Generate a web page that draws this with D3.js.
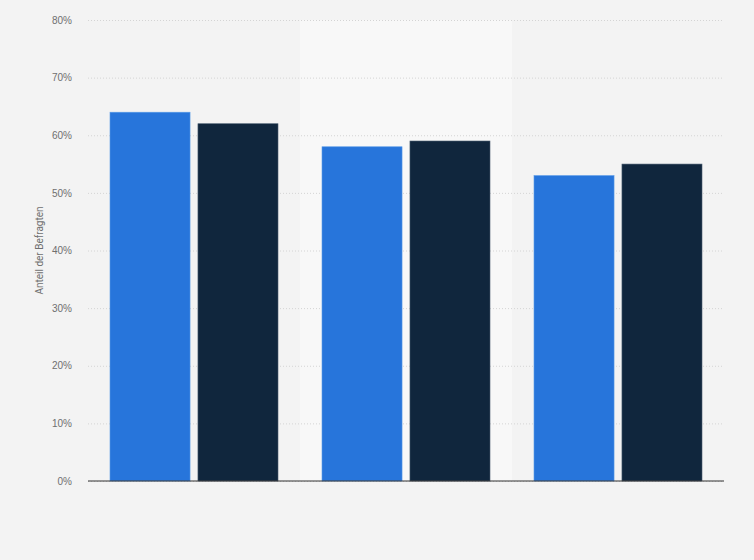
<!DOCTYPE html>
<html>
<head>
<meta charset="utf-8">
<script src="https://cdn.jsdelivr.net/npm/d3@7"></script>
<style>
  body { margin: 0; background: #f3f3f3; }
  svg { display: block; font-family: Roboto, "Open Sans", Arial, sans-serif; }
</style>
</head>
<body>
<script>
// chart data
var groups = ["A", "B", "C"];
var seriesNames = ["s1", "s2"];
var series1 = [64, 58, 53];
var series2 = [62, 59, 55];
var yTicks = [0, 10, 20, 30, 40, 50, 60, 70, 80];
var colors = ["#2775db", "#10263d"];

var W = 754, H = 560;
var margin = {top: 20, right: 30, bottom: 79, left: 88};

var svg = d3.select("body").append("svg")
            .attr("width", W)
            .attr("height", H);

svg.append("rect")
   .attr("width", W).attr("height", H)
   .attr("fill", "#f3f3f3");

var x0 = d3.scaleBand()
           .domain(groups)
           .range([margin.left, W - margin.right]);

var x1 = d3.scaleBand()
           .domain(seriesNames)
           .range([22, x0.bandwidth() - 22])
           .paddingInner(0.09);

var y = d3.scaleLinear()
          .domain([0, 80])
          .range([H - margin.bottom, margin.top]);

// lighter middle band
svg.append("rect")
   .attr("x", x0(groups[1]))
   .attr("y", margin.top)
   .attr("width", x0.bandwidth())
   .attr("height", y(0) - margin.top)
   .attr("fill", "#f8f8f8");

// gridlines
var yAxis = d3.axisLeft(y)
              .tickValues(yTicks)
              .tickSize(-(W - margin.right - margin.left))
              .tickPadding(16)
              .tickFormat(function(d){ return d + "%"; });

var gy = svg.append("g")
            .attr("transform", "translate(" + margin.left + ",0)")
            .call(yAxis);
gy.select(".domain").remove();
gy.selectAll(".tick line")
  .attr("stroke", "#d4d4d4")
  .attr("stroke-width", 1)
  .attr("stroke-dasharray", "1,2");
gy.selectAll(".tick text")
  .attr("fill", "#6f6f6f")
  .attr("font-size", "10px");

// bars
var data = groups.map(function(g, i){
  return {group: g, values: [
    {key: seriesNames[0], value: series1[i]},
    {key: seriesNames[1], value: series2[i]}
  ]};
});

var gg = svg.selectAll("g.group")
            .data(data)
            .enter()
            .append("g")
            .attr("class", "group")
            .attr("transform", function(d){ return "translate(" + x0(d.group) + ",0)"; });

gg.selectAll("rect")
  .data(function(d){ return d.values; })
  .enter()
  .append("rect")
  .attr("x", function(d){ return x1(d.key); })
  .attr("y", function(d){ return y(d.value); })
  .attr("width", x1.bandwidth())
  .attr("height", function(d){ return y(0) - y(d.value); })
  .attr("fill", function(d, i){ return colors[i]; })
  .attr("stroke", function(d, i){ return i === 0 ? "#5a9be8" : "#4a5d70"; })
  .attr("stroke-width", 0.6);

// baseline
svg.append("line")
   .attr("x1", margin.left).attr("x2", W - margin.right)
   .attr("y1", y(0)).attr("y2", y(0))
   .attr("stroke", "#333")
   .attr("stroke-width", 1.2);

// y axis title
svg.append("text")
   .attr("transform", "translate(43," + ((margin.top + y(0)) / 2) + ") rotate(-90)")
   .attr("text-anchor", "middle")
   .attr("fill", "#6f6f6f")
   .attr("font-size", "10px")
   .text("Anteil der Befragten");
</script>
</body>
</html>
